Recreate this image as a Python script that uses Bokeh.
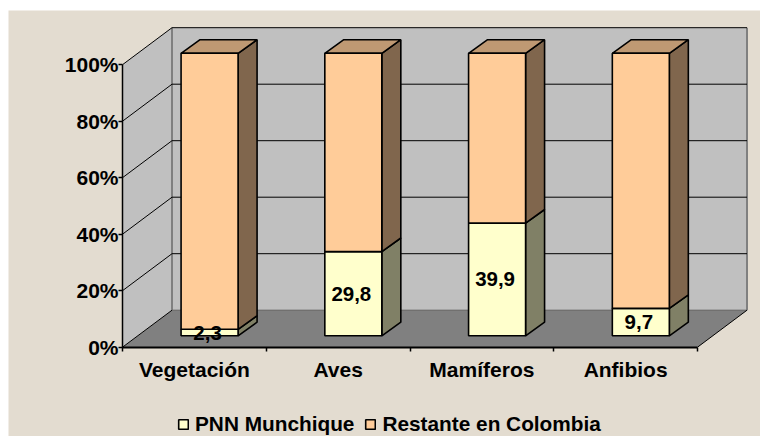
from bokeh.plotting import figure
from bokeh.models import LinearAxis, FixedTicker, Range1d, Legend, LegendItem, PrintfTickFormatter
from bokeh.core.properties import value
from bokeh.embed import file_html
from bokeh.resources import INLINE

categories = ["Vegetación", "Aves", "Mamíferos", "Anfibios"]
pnn_munchique = [2.3, 29.8, 39.9, 9.7]
restante = [97.7, 70.2, 60.1, 90.3]
labels = ["2,3", "29,8", "39,9", "9,7"]
y_ticks = [0, 20, 40, 60, 80, 100]
series_names = ["PNN Munchique", "Restante en Colombia"]

FONT = "Liberation Sans"
BG = "#E3DCD0"
PX_X = 143.75   # pixels per category
PX_Y = 2.825    # pixels per percent
WALL_DX, WALL_DY = 49.5 / PX_X, 37 / PX_Y
OFF_X, OFF_Y = 15.2 / PX_X, 11.4 / PX_Y
BAR_W = 57 / PX_X
BAR_DX, BAR_DY = 19 / PX_X, 13.6 / PX_Y

p = figure(width=752, height=426, output_backend="svg", toolbar_location=None,
           x_range=Range1d((8 - 122) / PX_X, (760 - 122) / PX_X),
           y_range=Range1d(-(436 - 346.7) / PX_Y, (346.7 - 10) / PX_Y),
           x_axis_type=None, y_axis_type=None, min_border=0,
           background_fill_color=BG, border_fill_color=BG, outline_line_color=None)
p.styles = {"margin": "10px 0 0 8px"}
p.xgrid.visible = False
p.ygrid.visible = False

n = len(categories)
# left wall, back wall, floor
p.patch([0, WALL_DX, WALL_DX, 0], [0, WALL_DY, 100 + WALL_DY, 100], fill_color="#C0C0C0", line_color=None)
p.patch([WALL_DX, n + WALL_DX, n + WALL_DX, WALL_DX], [WALL_DY, WALL_DY, 100 + WALL_DY, 100 + WALL_DY],
        fill_color="#C0C0C0", line_color=None)
p.patch([0, n, n + WALL_DX, WALL_DX], [0, 0, WALL_DY, WALL_DY], fill_color="#808080", line_color=None)
# wall edges
p.line([WALL_DX, WALL_DX], [WALL_DY, 100 + WALL_DY], line_color="#808080", line_width=2)
p.line([n + WALL_DX, n + WALL_DX], [WALL_DY, 100 + WALL_DY], line_color="#808080", line_width=2)
p.line([WALL_DX, n + WALL_DX], [WALL_DY, WALL_DY], line_color="#606060", line_width=1)
p.line([0, WALL_DX], [0, WALL_DY], line_color="black", line_width=1)
p.line([n, n + WALL_DX], [0, WALL_DY], line_color="black", line_width=1)
# gridlines
for t in y_ticks[1:]:
    p.line([0, WALL_DX, n + WALL_DX], [t, t + WALL_DY, t + WALL_DY], line_color="black", line_width=1)

front_lo, front_hi = None, None
for i in range(n):
    x0 = i + 0.5 - BAR_W / 2 + OFF_X
    x1 = x0 + BAR_W
    b0 = OFF_Y
    m = OFF_Y + pnn_munchique[i]
    t = m + restante[i]
    # side faces
    p.patch([x1, x1 + BAR_DX, x1 + BAR_DX, x1], [b0, b0 + BAR_DY, m + BAR_DY, m],
            fill_color="#808066", line_color="black", line_width=1.6)
    p.patch([x1, x1 + BAR_DX, x1 + BAR_DX, x1], [m, m + BAR_DY, t + BAR_DY, t],
            fill_color="#80664D", line_color="black", line_width=1.6)
    # top face
    p.patch([x0, x1, x1 + BAR_DX, x0 + BAR_DX], [t, t, t + BAR_DY, t + BAR_DY],
            fill_color="#BF9973", line_color="black", line_width=1.6)
    # front faces
    r1 = p.quad(left=x0, right=x1, bottom=b0, top=m, fill_color="#FFFFCC", line_color="black", line_width=1.6)
    r2 = p.quad(left=x0, right=x1, bottom=m, top=t, fill_color="#FFCC99", line_color="black", line_width=1.6)
    front_lo, front_hi = r1, r2
    cy = b0 + pnn_munchique[i] / 2
    p.text(x=[(x0 + x1) / 2 - 2 / PX_X], y=[cy], text=[labels[i]], text_font=value(FONT), text_font_style="bold",
           text_font_size="20.5px", text_align="center", text_baseline="middle", text_color="black")

# axes
left = LinearAxis(ticker=FixedTicker(ticks=y_ticks), formatter=PrintfTickFormatter(format="%d%%"),
                  bounds=(0, 100), fixed_location=0, axis_line_color="black", axis_line_width=1.5,
                  major_tick_line_color="black", major_tick_line_width=1.5, major_tick_in=0, major_tick_out=4,
                  minor_tick_line_color=None, major_label_text_font=FONT, major_label_text_font_style="bold",
                  major_label_text_font_size="21px", major_label_text_color="black", major_label_standoff=0)
p.add_layout(left, "left")
centers = [i + 0.5 for i in range(n)]
bottom = LinearAxis(ticker=FixedTicker(ticks=centers, minor_ticks=list(range(n + 1))),
                    major_label_overrides={c: s for c, s in zip(centers, categories)},
                    bounds=(0, n), fixed_location=0, axis_line_color="black", axis_line_width=2,
                    major_tick_line_color=None, major_tick_in=0, major_tick_out=0,
                    minor_tick_line_color="black", minor_tick_line_width=1.5, minor_tick_in=0, minor_tick_out=4,
                    major_label_text_font=FONT, major_label_text_font_style="bold",
                    major_label_text_font_size="21px", major_label_text_color="black", major_label_standoff=7)
p.add_layout(bottom, "below")

legend = Legend(items=[LegendItem(label=series_names[0], renderers=[front_lo]),
                       LegendItem(label=series_names[1], renderers=[front_hi])],
                orientation="horizontal", location=(169, 0), background_fill_alpha=0, border_line_color=None,
                label_text_font=FONT, label_text_font_style="bold", label_text_font_size="20.8px",
                label_text_color="black", glyph_width=12, glyph_height=12, label_standoff=6, spacing=10,
                margin=0, padding=0)
p.add_layout(legend, "center")

open("out.html", "w").write(file_html(p, INLINE))
